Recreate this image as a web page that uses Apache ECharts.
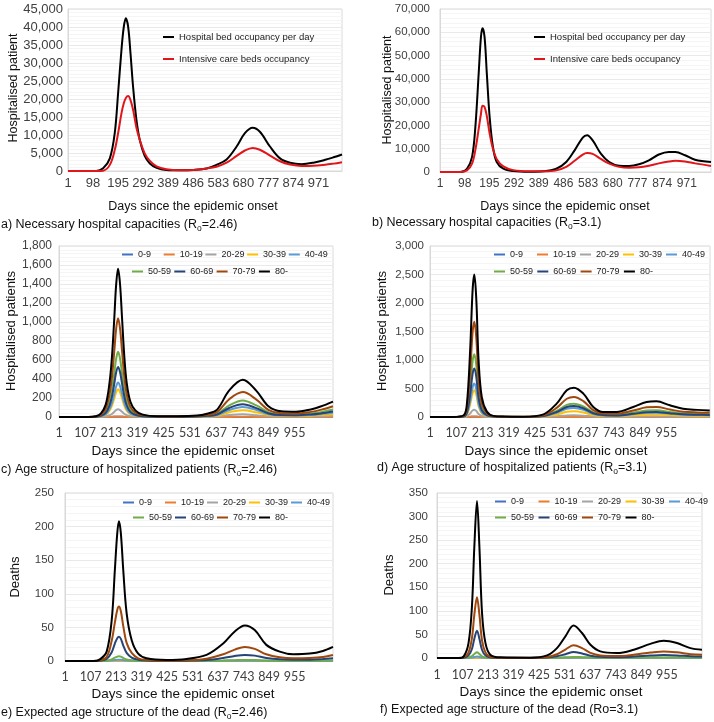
<!DOCTYPE html>
<html><head><meta charset="utf-8">
<script src="https://cdn.jsdelivr.net/npm/echarts@6/dist/echarts.min.js"></script>
<style>html,body{margin:0;padding:0;background:#fff}#c{width:714px;height:722px}</style>
</head><body><div id="c"></div>
<script>
// ---------------- DATA ----------------
const ageGroups = ['0-9','10-19','20-29','30-39','40-49','50-59','60-69','70-79','80-'];
const ageColors = ['#4472C4','#ED7D31','#A5A5A5','#FFC000','#5B9BD5','#70AD47','#264478','#9E480E','#000000'];
const capNames = ['Hospital bed occupancy per day','Intensive care beds occupancy'];

// a) R0=2.46 hospital capacities
const daysA = [1,110,137,163,182,195,208,217,225,234,243,253,266,279,298,318,344,382,434,486,538,576,615,654,686,716,744,783,822,861,906,951,997,1029,1062];
const bedsA = [0,0,740,3500,10500,21600,33600,40000,42400,40000,32700,23400,14200,8600,4200,2100,900,300,200,300,700,1700,3200,6800,10500,12000,10900,6800,3500,2300,1900,2300,3100,3800,4600];
const icuA  = [0,0,100,1700,5800,10500,16000,18800,20300,20800,19700,17000,12000,8600,4900,2800,1300,500,200,300,700,1200,2300,4200,5700,6400,5900,4300,2700,1800,1400,1450,1750,2050,2400];

// b) R0=3.1 hospital capacities
const daysB = [1,81,107,127,140,153,162,168,176,185,196,209,224,250,289,354,406,458,497,530,562,579,601,633,666,705,744,783,822,861,900,926,964,1003,1066];
const bedsB = [0,0,1400,6500,19400,42300,58100,61700,58100,42300,23700,10800,4300,1400,400,100,300,1400,4300,9300,14800,15800,13600,7900,4300,2700,2600,3300,5000,7500,8600,8600,7200,5300,4300];
const icuB  = [0,0,700,3600,9500,18500,25000,28500,28000,24000,16500,10000,5500,2400,800,300,300,700,2200,4800,7500,8200,7800,5600,3600,2200,1800,2000,2700,3700,4500,4800,4500,3700,2600];

// c) hospitalised by age, R0=2.46
const daysC = [1,120,150,170,190,205,215,225,232,240,248,256,265,275,290,310,340,400,480,560,600,640,690,745,800,850,900,960,1020,1060,1110];
const hospC_0  = [0,0,0,0,0,1,1,2,2,3,2,2,1,1,0,0,0,0,0,0,0,0,1,1,1,0,0,0,0,0,1];
const hospC_10 = [0,0,0,0,1,1,2,4,5,6,5,4,2,1,1,0,0,0,0,0,0,0,1,2,1,1,0,0,0,1,1];
const hospC_20 = [0,0,0,2,7,18,32,55,72,81,73,55,34,19,8,4,1,0,0,1,2,5,20,28,19,8,4,4,6,8,12];
const hospC_30 = [0,0,1,7,24,65,116,197,258,292,262,197,122,67,30,13,5,1,1,3,6,13,50,70,49,20,11,10,14,20,30];
const hospC_40 = [0,0,2,8,30,81,144,244,320,362,325,244,151,84,37,16,6,2,2,4,9,19,74,104,73,29,16,15,21,30,44];
const hospC_50 = [0,0,3,15,57,154,273,462,607,686,616,462,286,158,70,31,11,4,4,7,15,33,123,175,122,49,27,25,36,50,78];
const hospC_60 = [0,0,3,12,44,118,210,355,466,527,473,355,220,121,54,24,8,3,3,5,12,25,95,133,93,37,20,19,27,38,58];
const hospC_70 = [0,0,5,23,87,233,413,700,920,1040,933,700,433,240,107,47,17,5,5,10,23,50,187,262,183,73,40,37,54,75,113];
const hospC_80 = [0,0,8,35,130,350,620,1050,1380,1560,1400,1050,650,360,160,70,25,8,8,15,35,75,280,392,275,110,60,55,80,110,162];

// d) hospitalised by age, R0=3.1
const daysD = [1,96,137,150,163,173,180,188,197,210,231,257,300,378,459,512,553,582,620,660,700,754,821,875,915,969,1022,1080,1130];
const hospD_0  = [0,0,0,0,2,4,5,4,2,1,0,0,0,0,0,0,1,1,1,0,0,0,0,1,1,0,0,0,0];
const hospD_10 = [0,0,0,1,5,9,10,8,4,1,0,0,0,0,0,1,2,2,2,1,0,0,1,1,1,1,1,0,0];
const hospD_20 = [0,0,2,12,61,116,129,107,52,18,5,1,0,0,3,14,27,30,24,10,5,4,8,12,12,9,6,6,5];
const hospD_30 = [0,0,6,44,220,419,469,385,188,66,17,4,2,1,9,45,91,100,80,34,17,15,30,45,47,35,25,21,20];
const hospD_40 = [0,0,7,55,274,522,586,480,234,82,21,5,2,1,14,72,144,158,126,54,27,24,49,73,76,57,40,35,32];
const hospD_50 = [0,0,13,103,515,981,1100,902,440,154,40,9,4,2,21,105,212,234,185,79,40,38,76,114,118,88,63,54,49];
const hospD_60 = [0,0,10,80,398,758,850,697,340,119,31,7,3,2,18,88,176,193,154,66,33,28,56,84,88,66,47,40,37];
const hospD_70 = [0,0,20,157,784,1494,1670,1374,670,235,60,13,5,3,32,159,320,352,279,120,60,58,113,169,176,131,93,80,74];
const hospD_80 = [0,0,30,234,1170,2230,2500,2050,1000,350,90,20,8,5,47,234,470,515,410,176,88,88,176,264,275,205,146,125,115];

// e) deaths by age, R0=2.46
const daysE = [1,118,146,174,195,208,218,225,233,243,257,278,305,340,423,506,589,658,706,748,789,837,893,948,1017,1072,1114];
const deathE_0  = [0,0,0,0,0,0.05,0.1,0.1,0.1,0.05,0,0,0,0,0,0,0,0,0,0,0,0,0,0,0,0,0];
const deathE_10 = [0,0,0,0,0,0.05,0.1,0.1,0.1,0.05,0,0,0,0,0,0,0,0,0,0,0,0,0,0,0,0,0];
const deathE_20 = [0,0,0,0,0.1,0.2,0.3,0.3,0.3,0.2,0.1,0,0,0,0,0,0,0,0.1,0.1,0.1,0,0,0,0,0,0];
const deathE_30 = [0,0,0,0,0.3,0.7,0.9,1,0.9,0.6,0.3,0.1,0,0,0,0,0,0.1,0.2,0.2,0.2,0.1,0,0,0,0.1,0.1];
const deathE_40 = [0,0,0,0.1,0.7,1.4,1.9,2,1.9,1.3,0.7,0.3,0.1,0,0,0,0.1,0.2,0.4,0.5,0.4,0.2,0.1,0.1,0.1,0.1,0.2];
const deathE_50 = [0,0,0,0.5,2.5,5,6.5,7,6.5,4.5,2.3,1,0.4,0.1,0,0.1,0.3,0.8,1.3,1.6,1.4,0.8,0.5,0.4,0.4,0.5,0.7];
const deathE_60 = [0,0,0.5,3,13,26,34,36,33,23,12,5,2,0.7,0.2,0.5,1.5,4.5,7.5,9,8,4.5,2.5,2,2,3,4];
const deathE_70 = [0,0,1,6,30,57,76,81,74,52,27,12,4,1.5,0.5,1,3.5,10,17,21,18,10,5.5,4,4.5,6,9];
const deathE_80 = [0,0,2.5,14,61,135,190,208,190,135,71,31,11,4,1.5,3,9,26,44,53,46,24,14,10,11,15,21];

// f) deaths by age, R0=3.1
const daysF = [1,90,112,132,146,156,167,177,188,202,222,264,389,458,499,534,568,603,638,679,748,818,887,942,997,1053,1101];
const deathF_0  = [0,0,0,0,0,0.05,0.1,0.05,0,0,0,0,0,0,0,0,0,0,0,0,0,0,0,0,0,0,0];
const deathF_10 = [0,0,0,0,0,0.05,0.1,0.05,0,0,0,0,0,0,0,0,0,0,0,0,0,0,0,0,0,0,0];
const deathF_20 = [0,0,0,0,0.1,0.3,0.4,0.3,0.1,0,0,0,0,0,0,0,0.1,0.1,0,0,0,0,0,0,0,0,0];
const deathF_30 = [0,0,0,0.1,0.4,0.8,1.2,0.8,0.4,0.1,0,0,0,0,0.1,0.2,0.2,0.2,0.1,0,0,0.1,0.1,0.1,0.1,0.1,0.1];
const deathF_40 = [0,0,0,0.3,1,2.1,3,2.1,0.9,0.3,0,0,0,0,0.2,0.4,0.6,0.5,0.3,0.1,0.1,0.2,0.3,0.3,0.3,0.2,0.2];
const deathF_50 = [0,0,0.1,1.2,4,8.5,12,8.5,3.4,1.2,0.3,0,0,0.2,0.7,1.5,2.3,1.8,1,0.5,0.4,0.6,1,1.2,1,0.7,0.6];
const deathF_60 = [0,0,0.6,5.6,19,41,58,41,17,5.6,1.2,0.2,0.1,1,3.7,8,12.5,9.5,5,2.5,1.8,3,5.2,6.3,5.5,3.7,3];
const deathF_70 = [0,0,1.4,12,42,92,129,92,37,12,2.7,0.5,0.3,2.2,8,18,27,21,11,5.5,4,7,11.5,14,12,8,7];
const deathF_80 = [0,0,3.5,32,109,236,333,236,95,32,7,1.4,0.7,5.6,21,46,69,53,28,14,10.5,17.6,30,36.6,31.7,21,17.6];

// ---------------- LAYOUT / STYLE ----------------
const FA = 'Liberation Sans, Arial, sans-serif';
const FC = 'Lato, Open Sans, sans-serif';
const P = [
  {left:68, top:9, width:274, height:162, xMax:1062, xStep:97, xLast:971, yMax:45000, yStep:5000, yMargin:5, yFs:13, xFont:FA, xFs:13, xMargin:6,
   days:daysA, series:[bedsA, icuA], names:capNames, colors:['#000000','#e0161b']},
  {left:440, top:9, width:273, height:163, xMax:1066, xStep:97, xLast:971, yMax:70000, yStep:10000, yMargin:10, yFs:11.5, xFont:FA, xFs:12, xMargin:6,
   days:daysB, series:[bedsB, icuB], names:capNames, colors:['#000000','#e0161b']},
  {left:59, top:246, width:274, height:171, xMax:1110, xStep:106, xLast:955, yMax:1800, yStep:200, yMargin:7, yFs:12, xFont:FC, xFs:12.5, xMargin:9,
   days:daysC, series:[hospC_0,hospC_10,hospC_20,hospC_30,hospC_40,hospC_50,hospC_60,hospC_70,hospC_80], names:ageGroups, colors:ageColors},
  {left:430, top:246, width:280, height:171, xMax:1131, xStep:106, xLast:955, yMax:3000, yStep:500, yMargin:6, yFs:11.5, xFont:FC, xFs:12.5, xMargin:9,
   days:daysD, series:[hospD_0,hospD_10,hospD_20,hospD_30,hospD_40,hospD_50,hospD_60,hospD_70,hospD_80], names:ageGroups, colors:ageColors},
  {left:65, top:493, width:268, height:168, xMax:1114, xStep:106, xLast:955, yMax:250, yStep:50, yMargin:11, yFs:11.5, xFont:FC, xFs:12.5, xMargin:9,
   days:daysE, series:[deathE_0,deathE_10,deathE_20,deathE_30,deathE_40,deathE_50,deathE_60,deathE_70,deathE_80], names:ageGroups, colors:ageColors},
  {left:437, top:493, width:265, height:165, xMax:1101, xStep:106, xLast:955, yMax:350, yStep:50, yMargin:9, yFs:11.5, xFont:FC, xFs:12.5, xMargin:10,
   days:daysF, series:[deathF_0,deathF_10,deathF_20,deathF_30,deathF_40,deathF_50,deathF_60,deathF_70,deathF_80], names:ageGroups, colors:ageColors}
];

const option = {animation:false, backgroundColor:'#ffffff', grid:[], xAxis:[], yAxis:[], series:[], legend:[], graphic:[]};
const TXT = '#404040';

P.forEach((p, i) => {
  option.grid.push({left:p.left, top:p.top, width:p.width, height:p.height, show:true, borderColor:'#d9d9d9', borderWidth:1, containLabel:false});
  option.xAxis.push({type:'value', gridIndex:i, min:1, max:p.xMax, interval:p.xStep,
    axisLine:{show:true, onZero:false, lineStyle:{color:'#d9d9d9'}}, axisTick:{show:false}, splitLine:{show:false},
    axisLabel:{margin:p.xMargin, fontFamily:p.xFont, fontSize:p.xFs, color:TXT, showMinLabel:true, showMaxLabel:true,
      formatter: v => (v <= p.xLast ? String(v) : '')}});
  option.yAxis.push({type:'value', gridIndex:i, min:0, max:p.yMax, interval:p.yStep,
    axisLine:{show:true, lineStyle:{color:'#d9d9d9'}}, axisTick:{show:false},
    splitLine:{show:true, lineStyle:{color:'#e9e9e9', width:1}},
    minorTick:{show:false, splitNumber:5}, minorSplitLine:{show:true, lineStyle:{color:'#f5f5f5', width:1}},
    axisLabel:{margin:p.yMargin, fontFamily:FA, fontSize:p.yFs, color:TXT, formatter: v => v.toLocaleString('en-US')}});
  p.series.forEach((vals, k) => {
    option.series.push({name:p.names[k], type:'line', xAxisIndex:i, yAxisIndex:i,
      data:p.days.map((d, j) => [d, vals[j]]), smooth:0.35, showSymbol:false, symbol:'none',
      lineStyle:{width:2, color:p.colors[k]}, itemStyle:{color:p.colors[k]}, emphasis:{disabled:true}});
  });
});

// legends for a and b
[[163, 32], [534, 32]].forEach(([x, y]) => {
  option.legend.push({data:capNames, orient:'vertical', left:x, top:y, itemGap:12, itemWidth:11, itemHeight:2, icon:'rect',
    padding:0, selectedMode:false, textStyle:{fontFamily:FA, fontSize:9.5, color:'#222'}});
});
// legends for c-f (one per item to get Excel-like fixed columns)
const legRows = [
  {x:122, step:41.7, y:256, from:0, to:5}, {x:132, step:42.3, y:273, from:5, to:9},
  {x:494, step:43, y:256, from:0, to:5}, {x:494, step:43.3, y:273, from:5, to:9},
  {x:123, step:42, y:504, from:0, to:5}, {x:133, step:42, y:519, from:5, to:9},
  {x:495, step:43.5, y:503, from:0, to:5}, {x:495, step:43.5, y:519, from:5, to:9}
];
legRows.forEach(r => {
  for (let k = r.from; k < r.to; k++) {
    option.legend.push({data:[ageGroups[k]], left:r.x + (k - r.from) * r.step, top:r.y - 6, itemWidth:11, itemHeight:2, icon:'rect',
      padding:0, selectedMode:false, textStyle:{fontFamily:FA, fontSize:9, color:'#222'}});
  }
});

// texts
function txt(x, y, s, fs, rot, align) {
  return {type:'text', x:x, y:y, rotation:rot || 0, silent:true,
    style:{text:s, fill:'#111', font: fs + 'px ' + FA, align:align || 'center', verticalAlign:'middle'}};
}
function cap(x, y, pre, post) {
  return {type:'text', x:x, y:y, silent:true,
    style:{text:'{n|' + pre + '}{s|o}{n|' + post + '}', align:'left', verticalAlign:'middle',
      rich:{n:{fontSize:12.5, fontFamily:FA, fill:'#111', lineHeight:16}, s:{fontSize:8.5, fontFamily:FA, fill:'#111', lineHeight:8, verticalAlign:'bottom'}}}};
}
const R = Math.PI / 2;
option.graphic = [
  txt(14, 88, 'Hospitalised patient', 12.5, R), txt(388, 90, 'Hospitalised patient', 12.5, R),
  txt(11, 331, 'Hospitalised patients', 13, R), txt(382, 331, 'Hospitalised patients', 13, R),
  txt(15, 577, 'Deaths', 13, R), txt(389, 575, 'Deaths', 13, R),
  txt(193, 207, 'Days since the epidemic onset', 12.5), txt(565, 207, 'Days since the epidemic onset', 12.5),
  txt(183, 451, 'Days since the epidemic onset', 13.5), txt(556, 451, 'Days since the epidemic onset', 13.5),
  txt(183, 694, 'Days since the epidemic onset', 13.5), txt(551, 692, 'Days since the epidemic onset', 13.5),
  cap(1, 225, 'a) Necessary hospital capacities (R', '=2.46)'),
  cap(372, 223, 'b) Necessary hospital capacities (R', '=3.1)'),
  cap(1, 470, 'c) Age structure of hospitalized patients (R', '=2.46)'),
  cap(377, 468, 'd) Age structure of hospitalized patients (R', '=3.1)'),
  cap(1, 713, 'e) Expected age structure of the dead (R', '=2.46)'),
  txt(380, 710, 'f) Expected age structure of the dead (Ro=3.1)', 12.5, 0, 'left')
];

const chart = echarts.init(document.getElementById('c'), null, {renderer:'canvas'});
chart.setOption(option);
</script>
</body></html>
